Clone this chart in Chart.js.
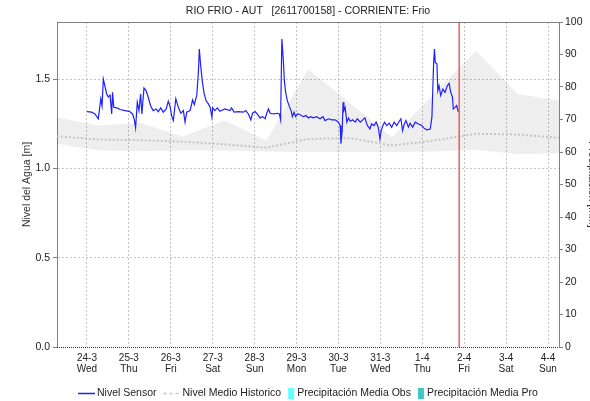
<!DOCTYPE html>
<html>
<head>
<meta charset="utf-8">
<title>RIO FRIO - AUT</title>
<script src="https://cdn.jsdelivr.net/npm/chart.js@4.4.1/dist/chart.umd.min.js"></script>
<style>
  html, body { margin: 0; padding: 0; background: #fff; }
  #wrap { position: relative; width: 590px; height: 401px; }
</style>
</head>
<body>
<div id="wrap"><canvas id="chartCanvas"></canvas></div>
<script>
const titleText = 'RIO FRIO - AUT   [2611700158] - CORRIENTE: Frio';
const leftAxisTitle = 'Nivel del Agua [m]';
const rightAxisTitle = 'Precipitación [mm]';

// x values are days counted from 24-3 00:00
const dayTicks = [0, 1, 2, 3, 4, 5, 6, 7, 8, 9, 10, 11];
const dayLabels = ['24-3', '25-3', '26-3', '27-3', '28-3', '29-3', '30-3', '31-3', '1-4', '2-4', '3-4', '4-4'];
const weekdayLabels = ['Wed', 'Thu', 'Fri', 'Sat', 'Sun', 'Mon', 'Tue', 'Wed', 'Thu', 'Fri', 'Sat', 'Sun'];
const levelTicks = [0, 0.5, 1.0, 1.5];
const rainTicks = [0, 10, 20, 30, 40, 50, 60, 70, 80, 90, 100];

const dayMin = -0.715;
const dayMax = 11.262;
const levelMax = 1.82;
const nowDay = 8.88;

// Nivel Sensor
const sensorDays = [
  0.00, 0.11, 0.19, 0.27, 0.33, 0.36, 0.39, 0.42, 0.47, 0.51, 0.55, 0.59, 0.61, 0.64, 0.71, 0.79, 0.91,
  1.01, 1.09, 1.13, 1.16, 1.20, 1.24, 1.28, 1.31, 1.36, 1.41, 1.46, 1.52, 1.58, 1.65, 1.70, 1.76, 1.82, 1.89, 1.94, 1.98,
  2.02, 2.06, 2.12, 2.18, 2.24, 2.30, 2.34, 2.38, 2.46, 2.52, 2.56, 2.62, 2.66, 2.68, 2.71, 2.75, 2.79, 2.84, 2.90, 2.94, 2.98,
  3.00, 3.05, 3.11, 3.17, 3.29, 3.41, 3.45, 3.51, 3.61, 3.73, 3.79, 3.85, 3.91, 3.95,
  4.01, 4.06, 4.13, 4.19, 4.25, 4.29, 4.33, 4.37, 4.45, 4.54, 4.59, 4.62, 4.65, 4.67, 4.69, 4.71, 4.74, 4.78, 4.83, 4.87, 4.90, 4.94, 4.98,
  5.02, 5.08, 5.16, 5.23, 5.28, 5.34, 5.40, 5.48, 5.56, 5.63, 5.68, 5.76, 5.84, 5.92,
  6.00, 6.04, 6.06, 6.09, 6.11, 6.13, 6.16, 6.20, 6.24, 6.28, 6.34, 6.40, 6.45, 6.52, 6.58, 6.63, 6.69, 6.75, 6.79, 6.85, 6.90, 6.95, 6.99,
  7.02, 7.06, 7.10, 7.15, 7.21, 7.27, 7.33, 7.39, 7.45, 7.49, 7.53, 7.57, 7.61, 7.67, 7.71, 7.77, 7.83, 7.91, 7.99,
  8.03, 8.11, 8.19, 8.23, 8.25, 8.27, 8.29, 8.31, 8.35, 8.37, 8.40, 8.44, 8.49, 8.54, 8.60, 8.64, 8.68, 8.72, 8.74, 8.78, 8.82, 8.86
];
const sensorLevel = [
  1.318, 1.315, 1.305, 1.278, 1.390, 1.350, 1.500, 1.470, 1.417, 1.400, 1.410, 1.305, 1.426, 1.342, 1.339, 1.330, 1.324,
  1.320, 1.305, 1.272, 1.227, 1.370, 1.324, 1.417, 1.305, 1.450, 1.436, 1.400, 1.350, 1.324, 1.333, 1.318, 1.339, 1.315, 1.333, 1.376, 1.350,
  1.296, 1.268, 1.390, 1.342, 1.309, 1.324, 1.259, 1.315, 1.324, 1.384, 1.357, 1.410, 1.547, 1.668, 1.585, 1.490, 1.426, 1.380, 1.360, 1.342, 1.287,
  1.339, 1.324, 1.339, 1.320, 1.333, 1.324, 1.339, 1.315, 1.318, 1.315, 1.324, 1.305, 1.272, 1.309,
  1.318, 1.305, 1.283, 1.290, 1.278, 1.309, 1.333, 1.309, 1.305, 1.309, 1.305, 1.272, 1.725, 1.659, 1.585, 1.490, 1.426, 1.380, 1.346, 1.324, 1.290, 1.315, 1.290,
  1.305, 1.302, 1.290, 1.296, 1.283, 1.290, 1.283, 1.290, 1.278, 1.290, 1.268, 1.278, 1.272, 1.272,
  1.259, 1.240, 1.138, 1.212, 1.370, 1.324, 1.342, 1.259, 1.283, 1.264, 1.272, 1.259, 1.278, 1.259, 1.272, 1.283, 1.240, 1.221, 1.249, 1.240, 1.259, 1.231, 1.165,
  1.212, 1.240, 1.259, 1.240, 1.253, 1.231, 1.259, 1.240, 1.264, 1.278, 1.212, 1.249, 1.268, 1.231, 1.253, 1.231, 1.259, 1.249, 1.240,
  1.227, 1.216, 1.221, 1.287, 1.436, 1.585, 1.668, 1.594, 1.585, 1.436, 1.464, 1.408, 1.444, 1.426, 1.464, 1.476, 1.426, 1.400, 1.333, 1.342, 1.352, 1.315
];

// Nivel Medio Historico and its historic band, one value per day
const histDays = [-0.72, 0.28, 1.28, 2.28, 3.28, 4.28, 5.28, 6.28, 7.28, 8.28, 9.28, 10.28, 11.28];
const histMean = [1.180, 1.162, 1.158, 1.150, 1.135, 1.116, 1.165, 1.170, 1.128, 1.156, 1.194, 1.190, 1.171];
const histMax  = [1.286, 1.240, 1.255, 1.179, 1.268, 1.156, 1.557, 1.365, 1.175, 1.420, 1.659, 1.417, 1.380];
const histMin  = [1.138, 1.100, 1.098, 1.100, 1.100, 1.095, 1.090, 1.090, 1.092, 1.095, 1.105, 1.080, 1.085];

// Precipitación (mm), none recorded in the window
const rainDays = [0, 1, 2, 3, 4, 5, 6, 7, 8, 9, 10, 11];
const rainObs = [0, 0, 0, 0, 0, 0, 0, 0, 0, 0, 0, 0];
const rainPro = [0, 0, 0, 0, 0, 0, 0, 0, 0, 0, 0, 0];

const fontFamily = '"Liberation Sans", Arial, sans-serif';
const toPoints = (xs, ys) => xs.map((x, i) => ({ x: x, y: ys[i] }));

// title, plot frame, clipped right axis title and the legend strip
const decorPlugin = {
    id: 'decor',
    afterDraw(chart) {
        const ctx = chart.ctx;
        const area = chart.chartArea;
        const midX = (area.left + area.right) / 2;
        ctx.save();

        ctx.fillStyle = '#222';
        ctx.font = '10.5px ' + fontFamily;
        ctx.textAlign = 'center';
        ctx.textBaseline = 'middle';
        ctx.fillText(titleText, midX, 11.5);

        ctx.strokeStyle = '#808080';
        ctx.lineWidth = 1;
        ctx.beginPath();
        ctx.moveTo(area.left, area.top + 0.5);
        ctx.lineTo(area.right, area.top + 0.5);
        ctx.stroke();

        ctx.strokeStyle = '#333';
        ctx.setLineDash([1, 1]);
        ctx.beginPath();
        ctx.moveTo(area.left, area.bottom + 0.5);
        ctx.lineTo(area.right, area.bottom + 0.5);
        ctx.stroke();
        ctx.setLineDash([]);

        ctx.save();
        ctx.translate(589, (area.top + area.bottom) / 2);
        ctx.rotate(Math.PI / 2);
        ctx.fillStyle = '#333';
        ctx.textBaseline = 'alphabetic';
        ctx.fillText(rightAxisTitle, 0, 0);
        ctx.restore();

        // legend
        ctx.font = '10.5px ' + fontFamily;
        ctx.textAlign = 'left';
        ctx.textBaseline = 'middle';
        const items = chart.data.datasets.filter(d => d.legendMark).map(d => {
            const markW = d.legendMark === 'box' ? 6 : 17;
            const gap = d.legendMark === 'box' ? 3 : 2;
            return { d: d, markW: markW, gap: gap, w: markW + gap + ctx.measureText(d.label).width };
        });
        const spacing = 7;
        const total = items.reduce((s, it) => s + it.w, 0) + spacing * (items.length - 1);
        let x = Math.round(midX - total / 2);
        const y = 393.5;
        items.forEach(it => {
            const d = it.d;
            if (d.legendMark === 'box') {
                ctx.fillStyle = d.backgroundColor;
                ctx.fillRect(x, y - 5.5, it.markW, 11);
            } else {
                ctx.strokeStyle = d.borderColor;
                ctx.lineWidth = 1.5;
                ctx.setLineDash(d.legendMark === 'dash' ? [3, 3] : []);
                ctx.beginPath();
                ctx.moveTo(x, y);
                ctx.lineTo(x + it.markW, y);
                ctx.stroke();
                ctx.setLineDash([]);
            }
            ctx.fillStyle = '#222';
            ctx.fillText(d.label, x + it.markW + it.gap, y);
            x += it.w + spacing;
        });
        ctx.restore();
    }
};

const ctx = document.getElementById('chartCanvas').getContext('2d');
const chart = new Chart(ctx, {
    type: 'line',
    data: {
        datasets: [
            {
                label: 'Nivel Sensor',
                legendMark: 'line',
                data: toPoints(sensorDays, sensorLevel),
                borderColor: '#2020ff',
                borderWidth: 1.2,
                pointRadius: 0,
                tension: 0,
                fill: false,
                order: 1
            },
            {
                label: 'Nivel Medio Historico',
                legendMark: 'dash',
                data: toPoints(histDays, histMean),
                borderColor: '#c4c4c4',
                borderWidth: 2,
                borderDash: [2, 2],
                pointRadius: 0,
                fill: false,
                order: 3
            },
            {
                label: 'Precipitación Media Obs',
                legendMark: 'box',
                type: 'bar',
                yAxisID: 'y2',
                data: toPoints(rainDays, rainObs),
                backgroundColor: '#66ffff',
                borderWidth: 0,
                order: 5
            },
            {
                label: 'Precipitación Media Pro',
                legendMark: 'box',
                type: 'bar',
                yAxisID: 'y2',
                data: toPoints(rainDays, rainPro),
                backgroundColor: '#40c8c8',
                borderWidth: 0,
                order: 6
            },
            {
                label: 'Máximo Historico',
                data: toPoints(histDays, histMax),
                borderWidth: 0,
                borderColor: 'rgba(0,0,0,0)',
                backgroundColor: 'rgba(0,0,0,0.065)',
                pointRadius: 0,
                fill: '+1',
                order: 8
            },
            {
                label: 'Mínimo Historico',
                data: toPoints(histDays, histMin),
                borderWidth: 0,
                borderColor: 'rgba(0,0,0,0)',
                pointRadius: 0,
                fill: false,
                order: 9
            },
            {
                label: 'Ahora',
                data: [{ x: nowDay, y: 0 }, { x: nowDay, y: levelMax }],
                borderColor: '#e53935',
                borderWidth: 1.2,
                pointRadius: 0,
                fill: false,
                order: 0
            }
        ]
    },
    options: {
        responsive: true,
        maintainAspectRatio: false,
        animation: false,
        events: [],
        layout: { padding: { top: 22, bottom: 24, left: 0, right: 0 } },
        plugins: {
            legend: { display: false },
            title: { display: false },
            tooltip: { enabled: false },
            filler: { propagate: false }
        },
        scales: {
            x: {
                type: 'linear',
                offset: false,
                min: dayMin,
                max: dayMax,
                afterBuildTicks: s => { s.ticks = dayTicks.map(v => ({ value: v })); },
                afterFit: s => { s.height = 30; },
                grid: { color: '#c4c4c4', drawTicks: false, offset: false },
                border: { display: false, dash: [2, 2] },
                ticks: {
                    autoSkip: false,
                    maxRotation: 0,
                    padding: 5,
                    color: '#222',
                    font: { family: fontFamily, size: 10, lineHeight: 1.15 },
                    callback: (v, i) => [dayLabels[i], weekdayLabels[i]]
                }
            },
            y: {
                position: 'left',
                min: 0,
                max: levelMax,
                afterBuildTicks: s => { s.ticks = levelTicks.map(v => ({ value: v })); },
                afterFit: s => { s.width = 57; },
                grid: {
                    color: c => (c.tick && c.tick.value === 0) ? 'rgba(0,0,0,0)' : '#c4c4c4',
                    tickColor: '#808080',
                    tickLength: 4,
                    tickBorderDash: []
                },
                border: { color: '#808080', width: 1, dash: [2, 2] },
                ticks: {
                    padding: 3,
                    color: '#222',
                    font: { family: fontFamily, size: 10.5 },
                    callback: v => v.toFixed(1)
                },
                title: {
                    display: true,
                    text: leftAxisTitle,
                    color: '#333',
                    font: { family: fontFamily, size: 10.5 },
                    padding: { top: 21, bottom: 0 }
                }
            },
            y2: {
                position: 'right',
                min: 0,
                max: 100,
                afterBuildTicks: s => { s.ticks = rainTicks.map(v => ({ value: v })); },
                afterFit: s => { s.width = 31; },
                grid: {
                    drawOnChartArea: false,
                    color: '#808080',
                    tickColor: '#808080',
                    tickLength: 4
                },
                border: { color: '#808080', width: 1 },
                ticks: {
                    padding: 2,
                    color: '#222',
                    font: { family: fontFamily, size: 10.5 }
                }
            }
        }
    },
    plugins: [decorPlugin]
});
</script>
</body>
</html>
